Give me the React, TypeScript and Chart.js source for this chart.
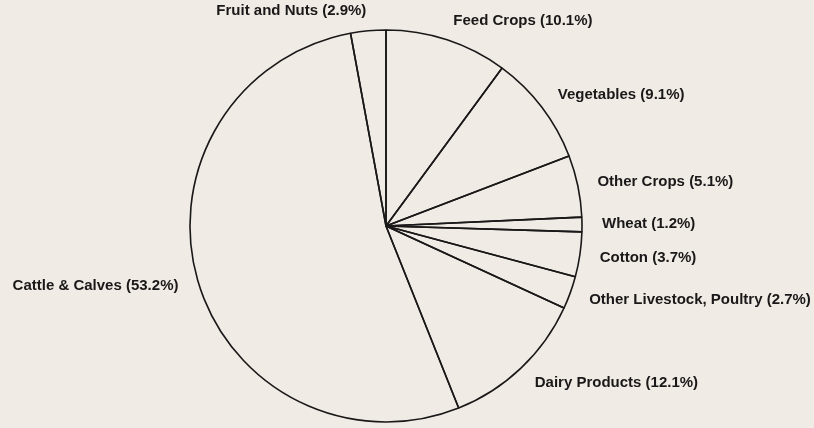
import React, { useEffect, useRef } from "react";
import { Chart, registerables } from "chart.js";

Chart.register(...registerables);

// Slices, clockwise from 12 o'clock
const categories: string[] = [
  "Feed Crops",
  "Vegetables",
  "Other Crops",
  "Wheat",
  "Cotton",
  "Other Livestock, Poultry",
  "Dairy Products",
  "Cattle & Calves",
  "Fruit and Nuts",
];
const sharePercent: number[] = [10.1, 9.1, 5.1, 1.2, 3.7, 2.7, 12.1, 53.2, 2.9];

const PAPER = "#f0ebe5";
const INK = "#1a1818";

const paperPlugin = {
  id: "paper",
  beforeDraw(chart: any) {
    const { ctx, width, height } = chart;
    ctx.save();
    ctx.fillStyle = PAPER;
    ctx.fillRect(0, 0, width, height);
    ctx.restore();
  },
};

const sliceLabelPlugin = {
  id: "sliceLabels",
  afterDatasetsDraw(chart: any) {
    const { ctx } = chart;
    const meta = chart.getDatasetMeta(0);
    const values: number[] = chart.data.datasets[0].data;
    ctx.save();
    ctx.fillStyle = INK;
    ctx.font = "bold 15px 'Liberation Sans', Arial, sans-serif";
    ctx.textBaseline = "middle";
    meta.data.forEach((arc: any, i: number) => {
      const p = arc.getProps(["x", "y", "startAngle", "endAngle", "outerRadius"], true);
      const mid = (p.startAngle + p.endAngle) / 2;
      const r = p.outerRadius + 20;
      const x = p.x + Math.cos(mid) * r;
      const y = p.y + Math.sin(mid) * r;
      ctx.textAlign = Math.cos(mid) >= 0 ? "left" : "right";
      const text = `${chart.data.labels[i]} (${values[i].toFixed(1)}%)`;
      ctx.fillText(text, x, y);
    });
    ctx.restore();
  },
};

export default function App() {
  const canvasRef = useRef<HTMLCanvasElement | null>(null);

  useEffect(() => {
    if (!canvasRef.current) return;
    const chart = new Chart(canvasRef.current, {
      type: "pie",
      data: {
        labels: categories,
        datasets: [
          {
            data: sharePercent,
            backgroundColor: "rgba(0,0,0,0)",
            borderColor: INK,
            borderWidth: 1.6,
            radius: 196,
          } as any,
        ],
      },
      options: {
        responsive: false,
        animation: false,
        events: [],
        layout: { padding: { left: 190, right: 232, top: 30, bottom: 6 } },
        plugins: {
          legend: { display: false },
          tooltip: { enabled: false },
        },
      },
      plugins: [paperPlugin, sliceLabelPlugin],
    });
    return () => chart.destroy();
  }, []);

  return (
    <div
      style={{
        position: "fixed",
        left: 0,
        top: 0,
        width: 814,
        height: 428,
        background: PAPER,
      }}
    >
      <canvas ref={canvasRef} width={814} height={428} style={{ display: "block" }} />
    </div>
  );
}
